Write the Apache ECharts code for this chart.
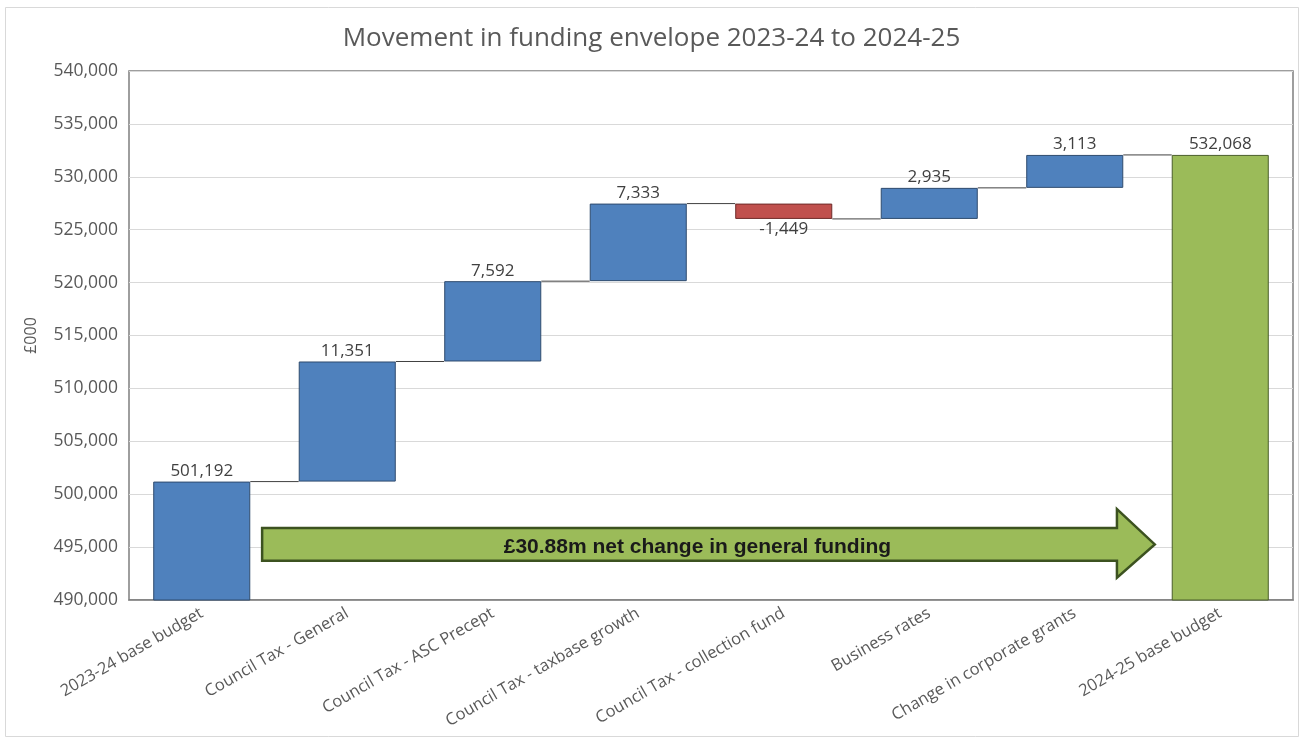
<!DOCTYPE html>
<html>
<head>
<meta charset="utf-8">
<script src="https://cdn.jsdelivr.net/npm/echarts@6/dist/echarts.min.js"></script>
<style>
html,body{margin:0;padding:0;background:#fff;}
#chart{width:1303px;height:743px;}
</style>
</head>
<body>
<div id="chart"></div>
<script>
// ---- data ----
const categories = [
  "2023-24 base budget",
  "Council Tax - General",
  "Council Tax - ASC Precept",
  "Council Tax - taxbase growth",
  "Council Tax - collection fund",
  "Business rates",
  "Change in corporate grants",
  "2024-25 base budget"
];
const startTotal = 501192;
const changes = [11351, 7592, 7333, -1449, 2935, 3113];
const endTotal = 532068;
const yTicks = [490000, 540000, 5000]; // min, max, interval
const arrowText = "£30.88m net change in general funding";
const titleText = "Movement in funding envelope 2023-24 to 2024-25";
const yName = "£000";

// ---- derived ----
const labelValues = [startTotal].concat(changes, [endTotal]);
const baseData = [];
const barData = [];
const levels = []; // running total after each bar (for connectors)
let running = startTotal;
baseData.push(0);
barData.push({value: startTotal, kind: 'total'});
levels.push(running);
changes.forEach(function (c) {
  const lo = c >= 0 ? running : running + c;
  baseData.push(lo);
  barData.push({value: Math.abs(c), kind: c >= 0 ? 'up' : 'down'});
  running += c;
  levels.push(running);
});
baseData.push(0);
barData.push({value: endTotal, kind: 'end'});

const fmt = function (v) { return v.toLocaleString('en-GB'); };
const colors = {
  total: {fill: '#4F81BD', border: '#2F4B6E'},
  up:    {fill: '#4F81BD', border: '#2F4B6E'},
  down:  {fill: '#C0504D', border: '#6E2B29'},
  end:   {fill: '#9BBB59', border: '#4A5E2A'}
};
const BAR_RATIO = 0.667;
const FONT = '"Open Sans"';

const chart = echarts.init(document.getElementById('chart'), null, {renderer: 'canvas'});

const option = {
  animation: false,
  backgroundColor: '#ffffff',
  title: {
    text: titleText,
    left: 'center',
    top: 21,
    textStyle: {fontFamily: FONT, fontSize: 26, fontWeight: 'normal', color: '#595959'}
  },
  grid: {
    left: 129, right: 10, top: 71, bottom: 143,
    show: true, borderColor: '#7f7f7f', borderWidth: 1.5, backgroundColor: 'transparent'
  },
  xAxis: {
    type: 'category',
    data: categories,
    axisTick: {show: false},
    axisLine: {show: true, lineStyle: {color: '#7f7f7f', width: 1.5}},
    axisLabel: {
      interval: 0, rotate: 30, margin: 12,
      fontFamily: FONT, fontSize: 16.5, color: '#595959'
    }
  },
  yAxis: {
    type: 'value',
    min: yTicks[0], max: yTicks[1], interval: yTicks[2],
    name: yName,
    nameLocation: 'middle',
    nameGap: 90,
    nameRotate: 90,
    nameTextStyle: {fontFamily: FONT, fontSize: 16, color: '#595959'},
    axisLine: {show: false},
    axisTick: {show: false},
    splitLine: {lineStyle: {color: '#d9d9d9', width: 1}},
    axisLabel: {
      margin: 11,
      fontFamily: FONT, fontSize: 17.5, color: '#595959',
      formatter: function (v) { return fmt(v); }
    }
  },
  series: [
    {
      name: 'base',
      type: 'bar',
      stack: 'wf',
      barWidth: (BAR_RATIO * 100) + '%',
      silent: true,
      itemStyle: {color: 'transparent', borderColor: 'transparent'},
      emphasis: {disabled: true},
      data: baseData
    },
    {
      name: 'value',
      type: 'bar',
      stack: 'wf',
      barWidth: (BAR_RATIO * 100) + '%',
      z: 3,
      data: barData.map(function (d, i) {
        const c = colors[d.kind];
        return {
          value: d.value,
          itemStyle: {color: c.fill, borderColor: c.border, borderWidth: 1},
          label: {
            show: true,
            position: d.kind === 'down' ? 'bottom' : 'top',
            distance: 2,
            formatter: function () { return fmt(labelValues[i]); },
            fontFamily: FONT, fontSize: 17, color: '#404040'
          }
        };
      })
    },
    {
      name: 'connectors',
      type: 'custom',
      silent: true,
      z: 2,
      data: levels.map(function (v, i) { return [i, v]; }).slice(0, categories.length - 1),
      renderItem: function (params, api) {
        const i = api.value(0);
        const p = api.coord([i, api.value(1)]);
        const band = api.size([1, 0])[0];
        const bw = band * BAR_RATIO;
        return {
          type: 'line',
          shape: {x1: p[0] + bw / 2, y1: p[1], x2: p[0] + band - bw / 2, y2: p[1]},
          style: {stroke: '#404040', lineWidth: 1}
        };
      }
    },
    {
      name: 'arrow',
      type: 'custom',
      silent: true,
      z: 5,
      data: [[0, 495300]],
      renderItem: function (params, api) {
        const band = api.size([1, 0])[0];
        const c0 = api.coord([0, api.value(1)]);
        const xStart = c0[0] + 0.415 * band;
        const xHead = c0[0] + 6.29 * band;
        const xTip = c0[0] + 6.55 * band;
        const yMid = c0[1] + 0.5;
        const shaftTop = api.coord([0, 496800])[1];
        const shaftBot = api.coord([0, 493700])[1];
        const headTop = api.coord([0, 498600])[1];
        const headBot = api.coord([0, 492100])[1];
        return {
          type: 'group',
          children: [
            {
              type: 'polygon',
              shape: {points: [
                [xStart, shaftTop], [xHead, shaftTop], [xHead, headTop],
                [xTip, yMid], [xHead, headBot], [xHead, shaftBot], [xStart, shaftBot]
              ]},
              style: {fill: '#9BBB59', stroke: '#3C5220', lineWidth: 2.5, lineJoin: 'miter'}
            },
            {
              type: 'text',
              style: {
                text: arrowText,
                x: (xStart + xTip) / 2 - 11,
                y: yMid + 3,
                align: 'center', verticalAlign: 'middle',
                font: 'bold 21px "Liberation Sans", Arial, sans-serif',
                fill: '#1a1a1a'
              }
            }
          ]
        };
      }
    }
  ],
  graphic: [
    {
      type: 'rect',
      silent: true,
      shape: {x: 5.5, y: 7.5, width: 1293, height: 729},
      style: {fill: 'transparent', stroke: '#d9d9d9', lineWidth: 1},
      z: -1
    }
  ]
};

chart.setOption(option);
</script>
</body>
</html>
